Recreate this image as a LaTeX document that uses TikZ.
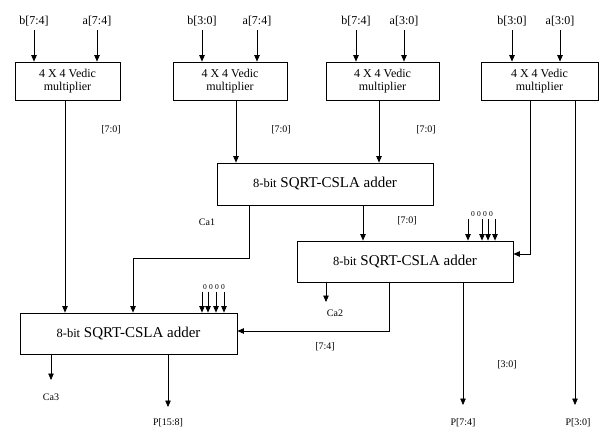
\documentclass[tikz,border=0pt]{standalone}
\usepackage{fontspec}
\setmainfont{Liberation Serif}
\usetikzlibrary{arrows.meta}
\begin{document}
\begin{tikzpicture}[x=1pt,y=-1pt,
  box/.style={draw, line width=0.8pt, inner sep=0pt, align=center},
  mult/.style={box, minimum height=38pt, font=\fontsize{12}{13.5}\selectfont},
  adder/.style={box, minimum width=216pt, minimum height=41pt, font=\fontsize{15}{17}\selectfont},
  lbl/.style={inner sep=0pt, font=\fontsize{12}{13}\selectfont},
  sm/.style={inner sep=0pt, font=\fontsize{10}{11}\selectfont},
  zeros/.style={inner sep=0pt, font=\fontsize{7.5}{8}\selectfont\addfontfeature{LetterSpace=30}},
  wire/.style={line width=0.7pt},
  arr/.style={wire, -{Triangle[width=5.5pt,length=6.5pt]}},
]
\useasboundingbox (0,0) rectangle (603,429);

% multipliers
\node[mult, minimum width=105pt] (m1) at (67.5,81) {4 X 4 Vedic\\multiplier};
\node[mult, minimum width=114pt] (m2) at (230,81) {4 X 4 Vedic\\multiplier};
\node[mult, minimum width=113pt] (m3) at (382.5,81) {4 X 4 Vedic\\multiplier};
\node[mult, minimum width=117pt] (m4) at (539.5,81) {4 X 4 Vedic\\multiplier};

% adders
\node[adder, minimum height=42pt] (a1) at (325,184) {{\fontsize{12.5}{14}\selectfont 8-bit} SQRT-CSLA adder};
\node[adder] (a2) at (405,261.5) {{\fontsize{12.5}{14}\selectfont 8-bit} SQRT-CSLA adder};
\node[adder, minimum width=217pt] (a3) at (128.5,333.5) {{\fontsize{12.5}{14}\selectfont 8-bit} SQRT-CSLA adder};

% input labels
\node[lbl] (i1b) at (34,21) {b[7:4]};
\node[lbl] (i1a) at (97,21) {a[7:4]};
\node[lbl] (i2b) at (202,21) {b[3:0]};
\node[lbl] (i2a) at (257,21) {a[7:4]};
\node[lbl] (i3b) at (356,21) {b[7:4]};
\node[lbl] (i3a) at (404,21) {a[3:0]};
\node[lbl] (i4b) at (512,21) {b[3:0]};
\node[lbl] (i4a) at (560,21) {a[3:0]};

\foreach \n/\m in {i1b/m1,i1a/m1,i2b/m2,i2a/m2,i3b/m3,i3a/m3,i4b/m4,i4a/m4}
  \draw[arr] ([yshift=-4pt]\n.south) -- (\n.south |- \m.north);

% small labels
\node[sm] (l1) at (111,130) {[7:0]};
\node[sm] (l2) at (281,130) {[7:0]};
\node[sm] (l3) at (426,130) {[7:0]};
\node[sm] (ca1) at (207,222) {Ca1};
\node[sm] (l4) at (407,221) {[7:0]};
\node[sm] (ca2) at (335,313) {Ca2};
\node[sm] (l5) at (325,347) {[7:4]};
\node[sm] (l6) at (507,365) {[3:0]};
\node[sm] (ca3) at (51,397) {Ca3};
\node[sm] (p158) at (168,423) {P[15:8]};
\node[sm] (p74) at (463,423) {P[7:4]};
\node[sm] (p30) at (578,423) {P[3:0]};

% zero inputs
\node[zeros] (z2) at (482,214) {0000};
\node[zeros] (z3) at (214,287) {0000};
\foreach \dx in {-14,0,6,13}
  \draw[arr] ([xshift=\dx pt, yshift=-2pt]z2.south) -- ([xshift=\dx pt]z2.south |- a2.north);
\foreach \dx in {-12,-6,2,10}
  \draw[arr] ([xshift=\dx pt, yshift=-2pt]z3.south) -- ([xshift=\dx pt]z3.south |- a3.north);

% multiplier outputs
\draw[arr] ([xshift=-2.5pt]m1.south) -- ([xshift=-2.5pt]m1.south |- a3.north);
\draw[arr] ([xshift=6pt]m2.south) -- ([xshift=6pt]m2.south |- a1.north);
\draw[arr] ([xshift=-3.5pt]m3.south) -- ([xshift=-3.5pt]m3.south |- a1.north);
\draw[arr] ([xshift=-9.5pt]m4.south) |- ([yshift=7.5pt]a2.east);
\coordinate (e30) at (575,405);
\draw[arr] (m4.south -| e30) -- (e30);

% adder 1 outputs
\draw[arr] ([xshift=-76pt]a1.south) -- ++(0,53) -| ([xshift=4.5pt]a3.north);
\draw[arr] ([xshift=38pt]a1.south) -- ([xshift=38pt]a1.south |- a2.north);

% adder 2 outputs
\coordinate (eca2) at (326,302);
\draw[arr] (a2.south -| eca2) -- (eca2);
\draw[arr] ([xshift=-16pt]a2.south) |- ([yshift=2.5pt]a3.east);
\coordinate (e74) at (463,405);
\draw[arr] (a2.south -| e74) -- (e74);

% adder 3 outputs
\coordinate (eca3) at (51,380);
\draw[arr] (a3.south -| eca3) -- (eca3);
\coordinate (e158) at (168,407);
\draw[arr] (a3.south -| e158) -- (e158);
\end{tikzpicture}
\end{document}
